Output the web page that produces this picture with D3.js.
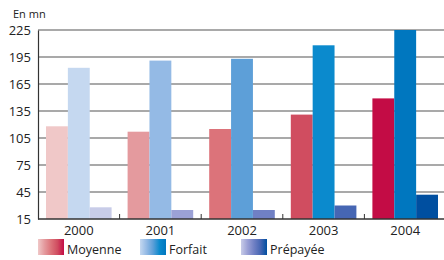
<!DOCTYPE html>
<html><head><meta charset="utf-8">
<script src="https://cdn.jsdelivr.net/npm/d3@7"></script>
<style>body{margin:0;background:#fff}svg{display:block}text{font-family:"Open Sans",sans-serif;fill:#222}</style>
</head><body><svg id="c" width="444" height="260"></svg>
<script>
const years = ["2000","2001","2002","2003","2004"];
const seriesNames = ["Moyenne","Forfait","Prépayée"];
const moyenne = [118,112,115,131,149];
const forfait = [183,191,193,208,225];
const prepayee = [28,25,25,30,42];
const yTicks = [15,45,75,105,135,165,195,225];
const colors = {
  "Moyenne": ["#f0c8c8","#e49a9e","#dc737a","#d04d60","#c30c45"],
  "Forfait": ["#c5d8f0","#94bae5","#5d9fd8","#0b8acd","#0077bf"],
  "Prépayée": ["#c8cce8","#9ba1d6","#7080c4","#4666b3","#004fa0"]
};
const values = {"Moyenne":moyenne,"Forfait":forfait,"Prépayée":prepayee};

const svg = d3.select("#c");
const x0 = d3.scaleBand().domain(years).range([38,446]);
const y = d3.scaleLinear().domain([15,225]).range([219,30]);
const inner = d3.scaleBand().domain(seriesNames).range([8, x0.bandwidth()-8]);

// gridlines
svg.append("g").selectAll("line").data(yTicks.slice(1)).join("line")
  .attr("x1",38).attr("x2",444).attr("y1",d=>y(d)).attr("y2",d=>y(d))
  .attr("stroke","#8c8c8c").attr("stroke-width",1.4);

// bars
const g = svg.append("g");
years.forEach((yr,i)=>{
  seriesNames.forEach(s=>{
    const v = values[s][i];
    g.append("rect").attr("x",x0(yr)+inner(s)).attr("width",inner.bandwidth())
      .attr("y",y(v)).attr("height",y(15)-y(v)).attr("fill",colors[s][i]);
  });
});

// y axis
const ya = svg.append("g").attr("transform","translate(38,0)")
  .call(d3.axisLeft(y).tickValues(yTicks).tickSize(0).tickPadding(7));
ya.select(".domain").attr("stroke","#333").attr("stroke-width",1.2);
ya.selectAll("text").attr("font-size",13).attr("font-family","Open Sans").attr("fill","#222");

// x axis
const xa = svg.append("g").attr("transform","translate(0,219)")
  .call(d3.axisBottom(x0).tickSize(0).tickPadding(7));
xa.select(".domain").remove();
xa.selectAll("text").attr("font-size",13).attr("font-family","Open Sans").attr("fill","#222");
svg.append("line").attr("x1",38).attr("x2",444).attr("y1",219).attr("y2",219).attr("stroke","#333").attr("stroke-width",1.4);
svg.append("g").selectAll("line").data(years.slice(1)).join("line")
  .attr("x1",d=>x0(d)).attr("x2",d=>x0(d)).attr("y1",219).attr("y2",214)
  .attr("stroke","#333").attr("stroke-width",1);

svg.append("text").attr("x",13).attr("y",18).attr("font-size",11).text("En mn");

// legend
const defs = svg.append("defs");
const legX = [38,140,241];
seriesNames.forEach((s,i)=>{
  const gr = defs.append("linearGradient").attr("id","lg"+i);
  colors[s].forEach((c,j)=>gr.append("stop").attr("offset",(j/4*100)+"%").attr("stop-color",c));
  svg.append("rect").attr("x",legX[i]).attr("y",239).attr("width",26).attr("height",16).attr("fill","url(#lg"+i+")");
  svg.append("text").attr("x",legX[i]+29).attr("y",254).attr("font-size",12.5).text(s);
});
</script></body></html>
